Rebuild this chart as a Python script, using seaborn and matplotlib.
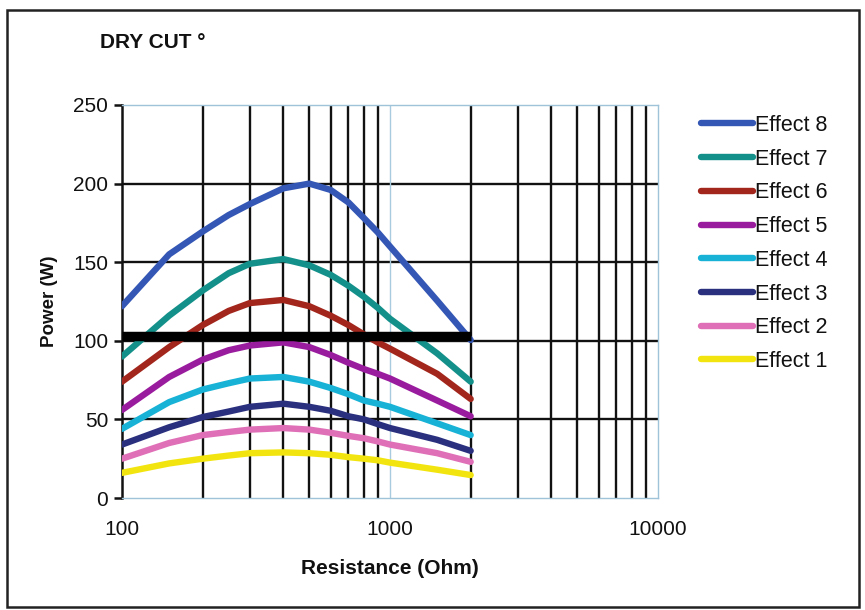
import numpy as np
import pandas as pd
import matplotlib
matplotlib.use("Agg")
import matplotlib.pyplot as plt
import seaborn as sns
from matplotlib.patches import Rectangle
from matplotlib.lines import Line2D

# ---- data ----
resistance = [100, 150, 200, 250, 300, 400, 500, 600, 700, 800, 900, 1000, 1500, 2000]
effect8 = [122, 155, 169.5, 180, 187, 197, 200, 196, 188, 178, 169, 160, 125.5, 100.5]
effect7 = [90, 116, 132, 143, 149, 152, 148, 142, 135, 128, 121, 114, 92, 74]
effect6 = [74, 96, 110, 119, 124, 126, 122, 116, 110, 104, 99, 95, 79, 63]
effect5 = [56, 77, 88, 94, 97, 99, 96, 91, 86, 82, 79, 76, 62, 52]
effect4 = [44, 61, 69, 73, 76, 77, 74, 70, 66, 62, 60, 58, 47.5, 40]
effect3 = [34, 45, 51.5, 55, 58, 60, 58, 55.5, 52, 50, 47, 44.5, 37, 30]
effect2 = [25, 35, 40, 42, 43.5, 44.5, 43.5, 41.5, 39.5, 38, 36, 34, 28.5, 23]
effect1 = [16, 22, 25, 27, 28.5, 29, 28.5, 27.5, 26, 25, 24, 22.5, 18, 14.6]
limit_x = [100, 2000]
limit_y = [103, 103]

series = {
    "Effect 8": effect8, "Effect 7": effect7, "Effect 6": effect6,
    "Effect 5": effect5, "Effect 4": effect4, "Effect 3": effect3,
    "Effect 2": effect2, "Effect 1": effect1,
}
colors = {
    "Effect 8": "#3457b5", "Effect 7": "#14908a", "Effect 6": "#a3261c",
    "Effect 5": "#9a1c9e", "Effect 4": "#17b2d6", "Effect 3": "#2a2f7e",
    "Effect 2": "#df6fb6", "Effect 1": "#f2e50f",
}

rows = []
for name, vals in series.items():
    for r, v in zip(resistance, vals):
        rows.append({"Resistance": r, "Power": v, "Effect": name})
df = pd.DataFrame(rows)

sns.set_theme(style="white")
plt.rcParams["font.family"] = ["Liberation Sans", "DejaVu Sans"]

fig = plt.figure(figsize=(8.65, 6.1), dpi=100)
ax = fig.add_axes([122/865, 1-498/610, (658-122)/865, (498-105)/610])

ax.set_xscale("log")
ax.set_xlim(100, 10000)
ax.set_ylim(0, 250)

# grid
ax.set_yticks([0, 50, 100, 150, 200, 250])
for y in [50, 100, 150, 200]:
    ax.axhline(y, color="#111111", lw=1.7, zorder=1)
minor = [m * d for d in (100, 1000) for m in range(2, 10)]
for x in minor:
    ax.axvline(x, color="#111111", lw=1.7, zorder=1)
ax.axvline(1000, color="#a9cbe0", lw=1.0, zorder=1)

order = list(series.keys())
sns.lineplot(data=df, x="Resistance", y="Power", hue="Effect", hue_order=order,
             palette=colors, lw=4.6, ax=ax, legend=False, zorder=3,
             solid_capstyle="round", solid_joinstyle="round")
ax.plot(limit_x, limit_y, color="black", lw=6.8, zorder=4, solid_capstyle="butt")

# axes style
for s in ["top", "right", "bottom"]:
    ax.spines[s].set_color("#9fc3d8")
    ax.spines[s].set_linewidth(1.0)
ax.spines["left"].set_color("#111111")
ax.spines["left"].set_linewidth(1.8)
ax.set_xticks([100, 1000, 10000])
ax.set_xticklabels(["100", "1000", "10000"])
ax.xaxis.set_minor_locator(matplotlib.ticker.NullLocator())
ax.tick_params(axis="x", length=0, pad=16, labelsize=15, colors="#111111")
ax.tick_params(axis="y", length=6, width=1.8, color="#111111", direction="out",
               left=True, pad=4, labelsize=15, labelcolor="#111111")
ax.set_xlabel("Resistance (Ohm)", fontsize=15, fontweight="bold", labelpad=14, color="#111111")
ax.set_ylabel("Power (W)", fontsize=13.5, fontweight="bold", labelpad=11, color="#111111")

fig.text(100/865, 1-43/610, "DRY CUT °", fontsize=15, fontweight="bold",
         va="center", ha="left", color="#111111")

handles = [Line2D([0], [0], color=colors[n], lw=4.6, solid_capstyle="round") for n in order]
leg = fig.legend(handles, order, loc="upper left", bbox_to_anchor=(701/865, 1-115/610),
                 frameon=False, fontsize=15.5, handlelength=2.4, handletextpad=0.1,
                 labelspacing=0.59, borderaxespad=0, borderpad=0)
for t in leg.get_texts():
    t.set_color("#111111")

fig.patches.append(Rectangle((7/865, 3/610), 852/865, 597/610, transform=fig.transFigure,
                             fill=False, edgecolor="#222222", lw=1.8))

fig.savefig("out.png", dpi=100, facecolor="white")
